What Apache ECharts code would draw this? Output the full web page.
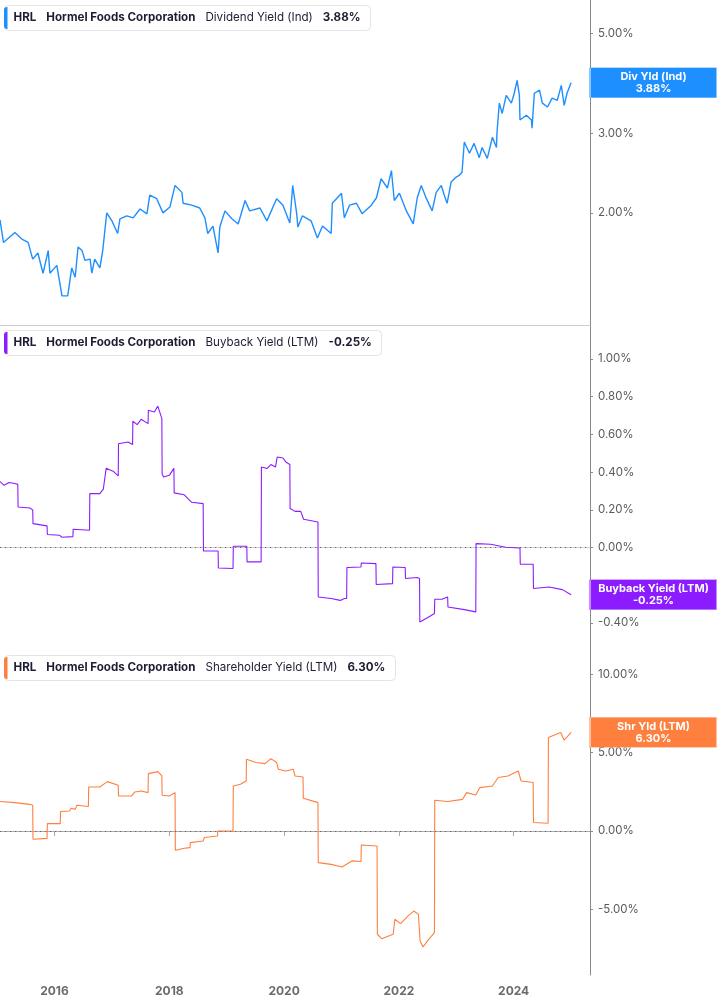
<!DOCTYPE html>
<html><head><meta charset="utf-8">
<script src="https://cdn.jsdelivr.net/npm/echarts@6/dist/echarts.min.js"></script>
<style>html,body{margin:0;padding:0;background:#fff}#c{width:717px;height:1005px}</style>
</head><body><div id="c"></div>
<script>
const ticker = 'HRL';
const company = 'Hormel Foods Corporation';
const metricNames = ['Dividend Yield (Ind)', 'Buyback Yield (LTM)', 'Shareholder Yield (LTM)'];
const badgeNames = ['Div Yld (Ind)', 'Buyback Yield (LTM)', 'Shr Yld (LTM)'];
const yearTicks = [2016, 2018, 2020, 2022, 2024];
const divTicks = [2, 3, 4, 5];
const buyTicks = [-0.4, -0.2, 0, 0.2, 0.4, 0.6, 0.8, 1.0];
const shrTicks = [-5, 0, 5, 10];

// [decimal year, yield %]
const divYield = [[2015.05,1.93],[2015.11,1.72],[2015.31,1.81],[2015.43,1.75],[2015.54,1.72],[2015.62,1.58],[2015.71,1.63],[2015.80,1.47],[2015.89,1.65],[2015.92,1.47],[2016.04,1.53],[2016.13,1.31],[2016.23,1.31],[2016.30,1.51],[2016.36,1.44],[2016.41,1.68],[2016.48,1.65],[2016.53,1.57],[2016.62,1.58],[2016.65,1.47],[2016.70,1.58],[2016.79,1.51],[2016.84,1.65],[2016.91,2.00],[2017.00,1.92],[2017.10,1.80],[2017.14,1.94],[2017.26,1.97],[2017.37,1.95],[2017.49,2.04],[2017.61,1.99],[2017.66,2.19],[2017.78,2.15],[2017.89,2.00],[2018.01,2.06],[2018.10,2.30],[2018.22,2.22],[2018.24,2.10],[2018.39,2.08],[2018.53,2.05],[2018.62,1.95],[2018.67,1.80],[2018.76,1.87],[2018.85,1.63],[2018.88,1.86],[2018.97,2.02],[2019.09,1.94],[2019.20,1.89],[2019.32,2.13],[2019.40,2.02],[2019.58,2.05],[2019.70,1.92],[2019.87,2.15],[2019.98,2.08],[2020.07,1.94],[2020.10,1.90],[2020.15,2.30],[2020.22,1.99],[2020.24,1.86],[2020.32,1.97],[2020.47,1.92],[2020.58,1.76],[2020.67,1.87],[2020.82,1.80],[2020.84,2.10],[2021.00,2.21],[2021.05,1.95],[2021.14,2.08],[2021.26,2.10],[2021.36,1.99],[2021.52,2.08],[2021.61,2.16],[2021.69,2.38],[2021.80,2.27],[2021.87,2.48],[2021.92,2.13],[2022.01,2.21],[2022.13,2.02],[2022.25,1.89],[2022.32,2.16],[2022.39,2.30],[2022.48,2.15],[2022.58,2.02],[2022.65,2.22],[2022.74,2.30],[2022.79,2.19],[2022.84,2.10],[2022.91,2.34],[2023.00,2.40],[2023.05,2.42],[2023.10,2.46],[2023.14,2.87],[2023.23,2.71],[2023.31,2.85],[2023.40,2.65],[2023.45,2.79],[2023.54,2.64],[2023.63,2.94],[2023.70,2.79],[2023.71,3.02],[2023.75,3.50],[2023.80,3.32],[2023.87,3.64],[2023.96,3.50],[2024.01,3.68],[2024.06,3.93],[2024.10,3.64],[2024.11,3.21],[2024.22,3.29],[2024.31,3.21],[2024.32,3.08],[2024.36,3.68],[2024.45,3.74],[2024.50,3.50],[2024.59,3.43],[2024.67,3.59],[2024.76,3.55],[2024.83,3.83],[2024.88,3.46],[2024.93,3.68],[2025.00,3.88]];

const buybackYield = [[2015.05,0.35],[2015.12,0.33],[2015.21,0.345],[2015.31,0.34],[2015.36,0.335],[2015.365,0.215],[2015.57,0.21],[2015.62,0.20],[2015.625,0.127],[2015.87,0.115],[2015.875,0.069],[2016.09,0.065],[2016.13,0.055],[2016.32,0.058],[2016.325,0.097],[2016.61,0.092],[2016.615,0.286],[2016.79,0.286],[2016.85,0.31],[2016.90,0.42],[2017.02,0.405],[2017.11,0.38],[2017.115,0.55],[2017.28,0.56],[2017.36,0.546],[2017.365,0.67],[2017.44,0.652],[2017.51,0.68],[2017.63,0.657],[2017.635,0.728],[2017.74,0.719],[2017.80,0.75],[2017.87,0.684],[2017.875,0.39],[2017.90,0.374],[2018.00,0.383],[2018.08,0.42],[2018.085,0.29],[2018.26,0.28],[2018.39,0.24],[2018.59,0.233],[2018.595,-0.018],[2018.85,-0.018],[2018.855,-0.108],[2019.11,-0.111],[2019.115,0.007],[2019.35,0.007],[2019.355,-0.076],[2019.60,-0.076],[2019.605,0.427],[2019.70,0.419],[2019.77,0.44],[2019.85,0.427],[2019.88,0.48],[2019.98,0.475],[2020.03,0.454],[2020.10,0.44],[2020.105,0.207],[2020.19,0.192],[2020.29,0.192],[2020.34,0.15],[2020.59,0.136],[2020.595,-0.262],[2020.82,-0.27],[2020.98,-0.28],[2021.05,-0.27],[2021.09,-0.27],[2021.095,-0.106],[2021.34,-0.103],[2021.345,-0.082],[2021.60,-0.085],[2021.605,-0.196],[2021.89,-0.191],[2021.895,-0.103],[2022.11,-0.106],[2022.115,-0.164],[2022.32,-0.159],[2022.36,-0.164],[2022.365,-0.394],[2022.49,-0.373],[2022.62,-0.35],[2022.625,-0.274],[2022.75,-0.274],[2022.85,-0.262],[2022.855,-0.315],[2023.14,-0.329],[2023.34,-0.341],[2023.345,0.021],[2023.60,0.018],[2023.86,0.002],[2024.11,-0.002],[2024.115,-0.088],[2024.34,-0.088],[2024.345,-0.217],[2024.62,-0.209],[2024.85,-0.223],[2025.00,-0.25]];

const shareholderYield = [[2015.05,1.88],[2015.31,1.81],[2015.57,1.70],[2015.62,1.64],[2015.625,-0.53],[2015.87,-0.47],[2015.875,0.47],[2016.10,0.47],[2016.105,1.24],[2016.26,1.28],[2016.29,1.45],[2016.36,1.38],[2016.39,1.64],[2016.59,1.56],[2016.595,2.81],[2016.79,2.81],[2016.92,3.15],[2017.11,2.92],[2017.115,2.23],[2017.34,2.23],[2017.40,2.49],[2017.51,2.55],[2017.63,2.45],[2017.635,3.66],[2017.80,3.79],[2017.87,3.51],[2017.875,2.28],[2018.00,2.23],[2018.10,2.45],[2018.105,-1.23],[2018.26,-1.10],[2018.36,-1.06],[2018.365,-0.74],[2018.59,-0.64],[2018.61,-0.42],[2018.84,-0.32],[2018.845,0.00],[2019.11,0.00],[2019.115,2.87],[2019.24,2.98],[2019.34,3.19],[2019.345,4.58],[2019.51,4.37],[2019.67,4.30],[2019.77,4.62],[2019.87,4.37],[2019.90,3.94],[2020.03,3.83],[2020.16,3.94],[2020.19,3.51],[2020.33,3.45],[2020.335,2.09],[2020.59,1.81],[2020.595,-2.02],[2020.82,-2.13],[2021.01,-2.30],[2021.18,-1.91],[2021.34,-1.95],[2021.345,-0.89],[2021.62,-0.96],[2021.625,-6.59],[2021.70,-6.87],[2021.90,-6.59],[2021.93,-5.63],[2022.03,-5.91],[2022.16,-5.42],[2022.26,-5.11],[2022.34,-5.32],[2022.37,-7.02],[2022.42,-7.40],[2022.52,-6.91],[2022.62,-6.48],[2022.625,1.96],[2022.85,1.88],[2023.11,2.02],[2023.18,2.45],[2023.34,2.30],[2023.41,2.77],[2023.63,2.87],[2023.73,3.41],[2023.90,3.51],[2024.08,3.83],[2024.13,3.19],[2024.34,3.09],[2024.345,0.54],[2024.60,0.49],[2024.605,5.96],[2024.82,6.28],[2024.88,5.79],[2025.00,6.30]];

const xMin = 2015.05, xMax = 2025.33;
const colors = ['#1E8FFF', '#8C1CFF', '#FF7F3F'];
const borderLight = ['#8CC6FF', '#C48CFF', '#FFC09F'];
const FONT = 'Inter, "Noto Sans", sans-serif';
const pct = v => v.toFixed(2) + '%';

const panels = [
  { data: divYield.map(d => [d[0], Math.log10(d[1])]), last: divYield[divYield.length-1][1],
    min: Math.log10(1.129), max: Math.log10(5.92), ticks: divTicks.map(v => Math.log10(v)),
    fmt: v => pct(Math.pow(10, v)), zero: false, lw: 1.4 },
  { data: buybackYield, last: buybackYield[buybackYield.length-1][1],
    min: -0.543, max: 1.18, ticks: buyTicks, fmt: v => pct(Math.abs(v) < 1e-9 ? 0 : v), zero: true, lw: 1.1 },
  { data: shareholderYield, last: shareholderYield[shareholderYield.length-1][1],
    min: -9.19, max: 11.55, ticks: shrTicks, fmt: v => pct(v), zero: true, lw: 1.1 }
];

const grids = [], xAxes = [], yAxes = [], series = [], titles = [];
panels.forEach((p, i) => {
  const top = i * 325;
  grids.push({ left: 0, right: 127, top: top, height: 325 });
  const isLast = i === 2;
  xAxes.push({
    type: 'value', gridIndex: i, min: xMin, max: xMax,
    axisLine: { show: true, lineStyle: { color: isLast ? '#aaa' : '#cfcfcf', width: 1 } },
    axisTick: { show: isLast, customValues: yearTicks, length: 5, lineStyle: { color: '#aaa' } },
    axisLabel: { show: isLast, customValues: yearTicks, formatter: v => String(Math.round(v)),
      color: '#6b6b6b', fontWeight: 'bold', fontSize: 12, fontFamily: FONT, margin: 10 },
    splitLine: { show: false }
  });
  yAxes.push({
    type: 'value', gridIndex: i, position: 'right', min: p.min, max: p.max,
    axisLine: { show: true, lineStyle: { color: '#8a8a8a', width: 1 } },
    axisTick: { show: true, customValues: p.ticks, length: 3, lineStyle: { color: '#8a8a8a' } },
    axisLabel: { show: true, customValues: p.ticks, formatter: p.fmt, color: '#5a5a5a',
      fontSize: 11.5, fontFamily: FONT, margin: 8 },
    splitLine: { show: false }
  });
  const s = {
    type: 'line', xAxisIndex: i, yAxisIndex: i, data: p.data, showSymbol: false,
    symbol: 'none', lineStyle: { color: colors[i], width: p.lw }, z: 3,
    markPoint: {
      silent: true, animation: false, symbol: 'rect', symbolSize: [127, 30], symbolOffset: [63.5, 0],
      itemStyle: { color: colors[i], borderColor: borderLight[i], borderWidth: 1 },
      label: { show: true, position: 'inside', color: '#fff', fontWeight: 'bold', fontSize: 11,
        lineHeight: 12, fontFamily: FONT, formatter: badgeNames[i] + '\n' + pct(p.last) },
      data: [{ coord: [xMax, i === 0 ? Math.log10(p.last) : p.last] }]
    }
  };
  if (p.zero) {
    s.markLine = { silent: true, animation: false, symbol: ['none', 'none'],
      label: { show: false }, lineStyle: { color: '#666', width: 1, type: [1.2, 3.8] },
      data: [{ yAxis: 0 }] };
  }
  series.push(s);
  titles.push({
    left: 4, top: top + 5,
    text: '{bar| }{tk|' + ticker + '}{co|' + company + '}{me|' + metricNames[i] + '}{va|' + pct(p.last) + '}',
    backgroundColor: '#fff', borderColor: '#e4e4e4', borderWidth: 1, borderRadius: 4,
    padding: [2, 10, 2, 0],
    textStyle: { rich: {
      bar: { width: 3.5, height: 22, backgroundColor: colors[i], borderRadius: [3, 0, 0, 3] },
      tk: { fontWeight: 'bold', fontSize: 11.6, color: '#1d1d33', fontFamily: FONT, padding: [0, 0, 0, 6] },
      co: { fontWeight: 'bold', fontSize: 11.6, color: '#1d1d33', fontFamily: FONT, padding: [0, 0, 0, 10] },
      me: { fontWeight: 'normal', fontSize: 11.6, color: '#1d1d33', fontFamily: FONT, padding: [0, 0, 0, 10] },
      va: { fontWeight: 'bold', fontSize: 11.6, color: '#1d1d33', fontFamily: FONT, padding: [0, 0, 0, 10] }
    } }
  });
});

const chart = echarts.init(document.getElementById('c'), null, { renderer: 'canvas' });
chart.setOption({
  animation: false,
  backgroundColor: '#fff',
  title: titles,
  grid: grids, xAxis: xAxes, yAxis: yAxes, series: series
});
</script></body></html>
